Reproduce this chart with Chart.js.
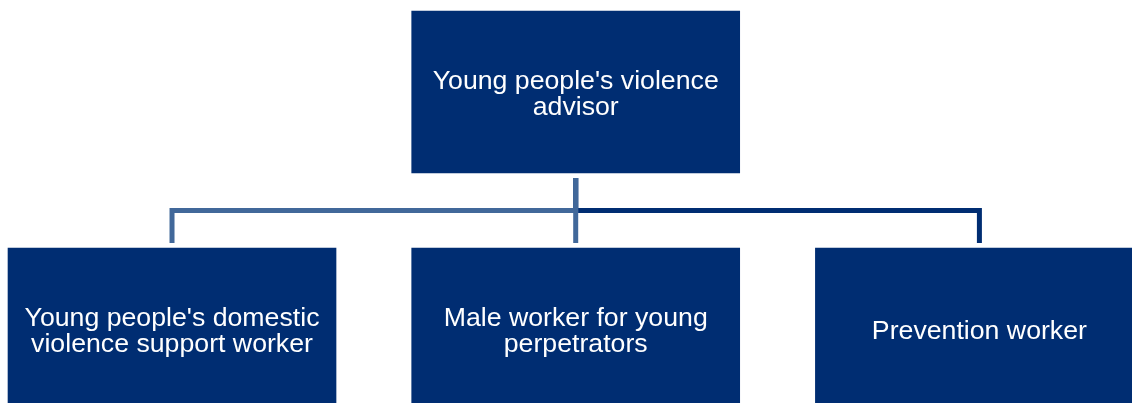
<!DOCTYPE html>
<html>
<head>
<meta charset="utf-8">
<script src="https://cdn.jsdelivr.net/npm/chart.js@4/dist/chart.umd.min.js"></script>
<style>
  html, body { margin: 0; padding: 0; background: #ffffff; }
  #wrap { width: 1132px; height: 403px; position: relative; }
</style>
</head>
<body>
<div id="wrap"><canvas id="c"></canvas></div>
<script>
// ---- data ----
const nodeLabels = [
  "Young people's violence advisor",
  "Young people's domestic violence support worker",
  "Male worker for young perpetrators",
  "Prevention worker"
];
const nodeLevels  = [0, 1, 1, 1];
const nodeColumns = [1, 0, 1, 2];
const nodeParents = [null, 0, 0, 0];

// ---- layout / style (level & column units) ----
const BOX_DEPTH = 0.6835;
const CONNECTOR_GAP = 0.0211;
const ELBOW_OFFSET = 0.8418;
const BOX_COLOR = '#002D72';
const TEXT_COLOR = '#ffffff';
const connectorColors = ['#41689A', '#41689A', '#002D72'];
const connectorOrder = [1, 1, 2];

const boxData = nodeLabels.map((_, i) => ({
  x: nodeColumns[i],
  y: [nodeLevels[i], nodeLevels[i] + BOX_DEPTH]
}));

const connectorDatasets = [];
let childIdx = 0;
nodeParents.forEach((p, i) => {
  if (p === null) return;
  const pc = nodeColumns[p], cc = nodeColumns[i];
  const pl = nodeLevels[p], cl = nodeLevels[i];
  let pts;
  if (pc === cc) {
    pts = [{x: pc, y: pl + BOX_DEPTH + CONNECTOR_GAP}, {x: cc, y: cl - CONNECTOR_GAP}];
  } else {
    pts = [
      {x: pc, y: pl + BOX_DEPTH + CONNECTOR_GAP},
      {x: pc, y: pl + ELBOW_OFFSET},
      {x: cc, y: pl + ELBOW_OFFSET},
      {x: cc, y: cl - CONNECTOR_GAP}
    ];
  }
  connectorDatasets.push({
    type: 'line',
    data: pts,
    borderColor: connectorColors[childIdx],
    borderWidth: 5,
    pointRadius: 0,
    fill: false,
    tension: 0,
    borderJoinStyle: 'miter',
    borderCapStyle: 'butt',
    order: connectorOrder[childIdx]
  });
  childIdx++;
});

const FONT_SIZE = 26.7;
const LINE_H = 26;
const MAX_TEXT_W = 306;

function wrap(ctx, text, maxW) {
  const words = text.split(' ');
  const lines = [];
  let cur = '';
  words.forEach(w => {
    const t = cur ? cur + ' ' + w : w;
    if (ctx.measureText(t).width <= maxW || !cur) cur = t;
    else { lines.push(cur); cur = w; }
  });
  if (cur) lines.push(cur);
  return lines;
}

const labelPlugin = {
  id: 'boxLabels',
  afterDatasetsDraw(chart) {
    const meta = chart.getDatasetMeta(0);
    const ctx = chart.ctx;
    ctx.save();
    ctx.font = FONT_SIZE + 'px "Liberation Sans", Arial, sans-serif';
    ctx.fillStyle = TEXT_COLOR;
    ctx.textAlign = 'center';
    ctx.textBaseline = 'alphabetic';
    const capHalf = FONT_SIZE * 0.716 / 2;
    meta.data.forEach((el, i) => {
      const cx = el.x;
      const cy = (el.y + el.base) / 2;
      const lines = wrap(ctx, nodeLabels[i], MAX_TEXT_W);
      const n = lines.length;
      lines.forEach((ln, k) => {
        const y = cy + (k - (n - 1) / 2) * LINE_H + capHalf;
        ctx.fillText(ln, cx, y);
      });
    });
    ctx.restore();
  }
};

new Chart(document.getElementById('c'), {
  type: 'bar',
  data: {
    datasets: [
      {
        type: 'bar',
        data: boxData,
        backgroundColor: BOX_COLOR,
        borderWidth: 0,
        barThickness: 328,
        order: 0
      },
      ...connectorDatasets
    ]
  },
  options: {
    responsive: true,
    maintainAspectRatio: false,
    animation: false,
    events: [],
    layout: { padding: 0 },
    plugins: { legend: { display: false }, tooltip: { enabled: false }, title: { display: false } },
    scales: {
      x: { type: 'linear', min: -0.4261, max: 2.378, offset: false, display: false, grace: 0 },
      y: { type: 'linear', min: -0.0464, max: 1.654, reverse: true, display: false, grace: 0, beginAtZero: false }
    }
  },
  plugins: [labelPlugin]
});
</script>
</body>
</html>
